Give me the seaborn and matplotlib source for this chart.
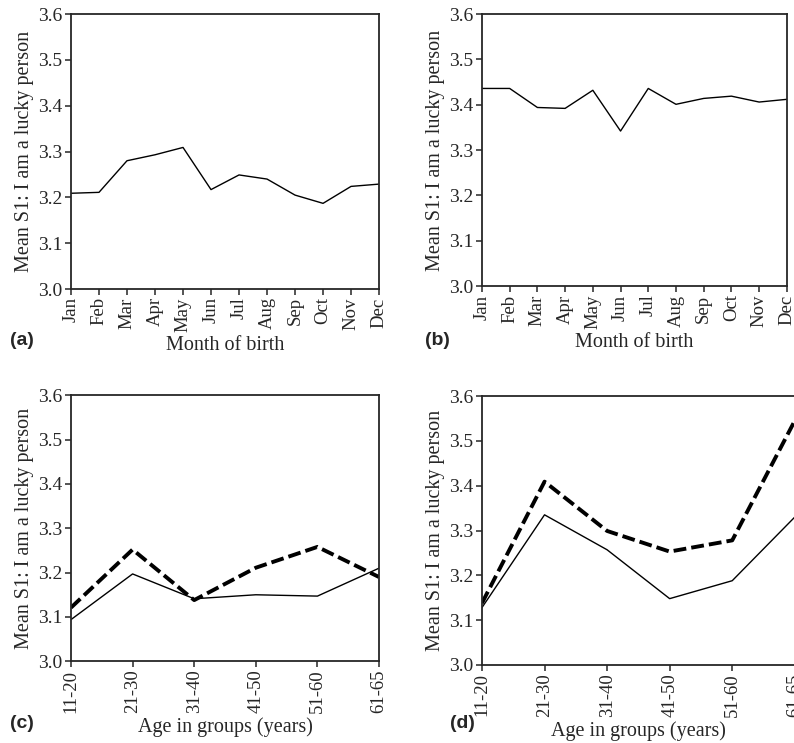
import matplotlib
matplotlib.use('Agg')
import matplotlib.pyplot as plt
import seaborn as sns
import pandas as pd

# data
months = ["Jan", "Feb", "Mar", "Apr", "May", "Jun", "Jul", "Aug", "Sep", "Oct", "Nov", "Dec"]
month_a = [3.209, 3.211, 3.280, 3.293, 3.309, 3.217, 3.249, 3.240, 3.205, 3.187, 3.224, 3.229]
month_b = [3.436, 3.436, 3.394, 3.392, 3.432, 3.342, 3.436, 3.401, 3.414, 3.419, 3.406, 3.412]
ages = ["11-20", "21-30", "31-40", "41-50", "51-60", "61-65"]
age_c_solid = [3.094, 3.197, 3.141, 3.150, 3.147, 3.210]
age_c_dash = [3.121, 3.252, 3.138, 3.211, 3.258, 3.190]
age_d_solid = [3.128, 3.335, 3.257, 3.148, 3.188, 3.330]
age_d_dash = [3.138, 3.409, 3.299, 3.253, 3.278, 3.545]

ylabel = "Mean S1: I am a lucky person"
yticks = [3.0, 3.1, 3.2, 3.3, 3.4, 3.5, 3.6]

sns.set_style("ticks")
plt.rcParams['font.family'] = ['Liberation Serif', 'DejaVu Serif']
plt.rcParams['axes.linewidth'] = 1.3

fig = plt.figure(figsize=(7.94, 7.43), dpi=100)
ax_a = fig.add_axes([0.0894, 0.611, 0.388, 0.370])
ax_b = fig.add_axes([0.607, 0.615, 0.384, 0.366])
ax_c = fig.add_axes([0.0894, 0.110, 0.388, 0.358])
ax_d = fig.add_axes([0.607, 0.105, 0.394, 0.362])


def draw(ax, cats, solid, dash, xlabel, tag, tag_xy):
    df = pd.DataFrame({"x": cats, "solid": solid})
    sns.lineplot(data=df, x="x", y="solid", ax=ax, color="black", lw=1.0, sort=False)
    if dash is not None:
        df2 = pd.DataFrame({"x": cats, "dash": dash})
        sns.lineplot(data=df2, x="x", y="dash", ax=ax, color="black", lw=2.8,
                     sort=False, dashes=False)
        ax.lines[-1].set_dashes((3.3, 1.3))
    ax.set_xlim(0, len(cats) - 1)
    ax.set_ylim(3.0, 3.6)
    ax.set_yticks(yticks)
    ax.set_yticklabels([f"{v:.1f}" for v in yticks], fontsize=14)
    ax.set_xticks(range(len(cats)))
    ax.set_xticklabels(cats, rotation=90, fontsize=13.5)
    ax.tick_params(length=4, width=1.1, pad=2)
    ax.set_xlabel(xlabel, fontsize=14.5, labelpad=3)
    ax.set_ylabel(ylabel, fontsize=14.5, labelpad=3)
    for s in ax.spines.values():
        s.set_visible(True)
    fig.text(tag_xy[0], tag_xy[1], tag, fontsize=14, fontweight="bold",
             family=["Liberation Sans", "DejaVu Sans"], va="center", ha="left")


draw(ax_a, months, month_a, None, "Month of birth", "(a)", (0.012, 0.542))
draw(ax_b, months, month_b, None, "Month of birth", "(b)", (0.535, 0.542))
draw(ax_c, ages, age_c_solid, age_c_dash, "Age in groups (years)", "(c)", (0.012, 0.026))
draw(ax_d, ages, age_d_solid, age_d_dash, "Age in groups (years)", "(d)", (0.567, 0.026))

fig.savefig("out.png", dpi=100)
plt.close(fig)
